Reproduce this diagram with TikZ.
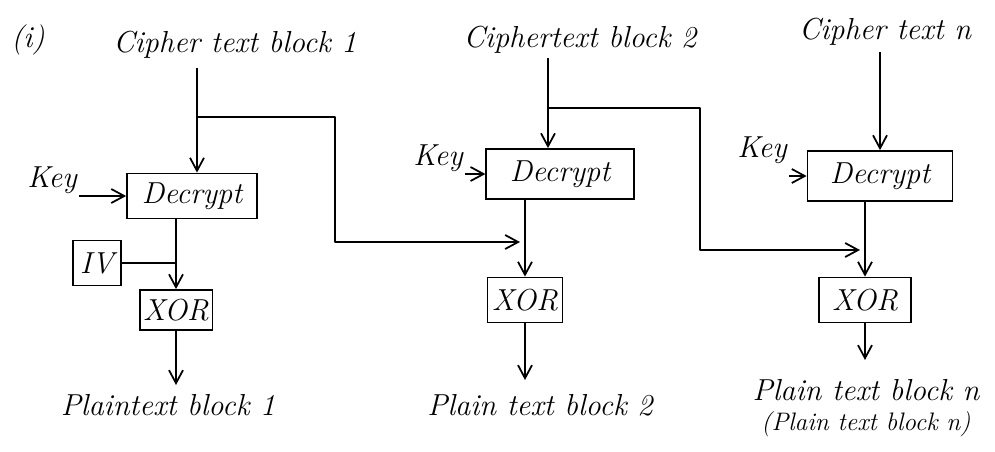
\documentclass[tikz,border=0pt]{standalone}
\usetikzlibrary{arrows.meta,positioning,calc}
\tikzset{
  blockbox/.style={draw, line width=1pt, minimum height=0.9cm, inner sep=2pt, font=\LARGE\itshape},
  lbl/.style={font=\LARGE\itshape, inner sep=1pt},
  flowln/.style={-{Straight Barb[length=2.6mm,width=2.8mm]}, line width=1pt},
  plainln/.style={line width=1pt, line join=round},
}
\begin{document}
\begin{tikzpicture}[x=0.02cm, y=-0.02cm]
    \useasboundingbox (0,0) rectangle (995,451);
    \node[lbl] (title) at (28,40) {(i)};
    % Block 1
    \node[lbl] (ct1) at (235,45) {Cipher text block 1};
    \node[blockbox, minimum width=2.6cm] (dec1) at (192,196) {Decrypt};
    \node[lbl] (key1) at (52,180) {Key};
    \node[blockbox, minimum width=0.95cm] (iv) at (97,263) {IV};
    \node[blockbox, minimum width=1.25cm, minimum height=0.8cm] (xor1) at (176,310) {XOR};
    \node[lbl] (pt1) at (168,405) {Plaintext block 1};
    \coordinate (in1) at (197,68);
    \coordinate (br1) at (197,117);
    \coordinate (join1) at (176,263);
    \coordinate (out1) at (176,385);
    \coordinate (fb1) at (335,242);
    \draw[flowln] (in1) -- (in1 |- dec1.north);
    \draw[flowln] (dec1.west -| key1.east) -- (dec1.west);
    \draw[flowln] (dec1.south -| xor1.north) -- (xor1.north);
    \draw[plainln] (iv.east) -- (join1);
    \draw[flowln] (xor1.south) -- (out1);
    % Block 2
    \node[lbl] (ct2) at (580,40) {Ciphertext block 2};
    \node[blockbox, minimum width=2.95cm, minimum height=1cm] (dec2) at (560,174) {Decrypt};
    \node[lbl] (key2) at (438,158) {Key};
    \node[blockbox, minimum width=1.5cm] (xor2) at (525,300) {XOR};
    \node[lbl] (pt2) at (540,405) {Plain text block 2};
    \coordinate (in2) at (548,58);
    \coordinate (br2) at (548,108);
    \coordinate (out2) at (525,380);
    \coordinate (fb2) at (700,250);
    \draw[flowln] (in2) -- (in2 |- dec2.north);
    \draw[flowln] (dec2.west -| key2.east) -- (dec2.west);
    \draw[flowln] (dec2.south -| xor2.north) -- (xor2.north);
    \draw[flowln] (xor2.south) -- (out2);
    \draw[flowln, plainln] (br1) -| (fb1) -- ($(fb1 -| xor2.north)+(-5,0)$);
    % Block n
    \node[lbl] (ct3) at (885,32) {Cipher text n};
    \node[blockbox, minimum width=2.9cm, minimum height=1cm] (dec3) at (880,176) {Decrypt};
    \node[lbl] (key3) at (762,150) {Key};
    \node[blockbox, minimum width=1.85cm] (xor3) at (865,300) {XOR};
    \node[lbl] (pt3) at (866,390) {Plain text block n};
    \node[lbl, font=\Large\itshape] (pt3b) at (866,424) {(Plain text block n)};
    \coordinate (in3) at (880,52);
    \coordinate (out3) at (865,360);
    \draw[flowln] (in3) -- (in3 |- dec3.north);
    \draw[flowln] (dec3.west -| key3.east) -- (dec3.west);
    \draw[flowln] (dec3.south -| xor3.north) -- (xor3.north);
    \draw[flowln] (xor3.south) -- (out3);
    \draw[flowln, plainln] (br2) -| (fb2) -- ($(fb2 -| xor3.north)+(-5,0)$);
\end{tikzpicture}
\end{document}
